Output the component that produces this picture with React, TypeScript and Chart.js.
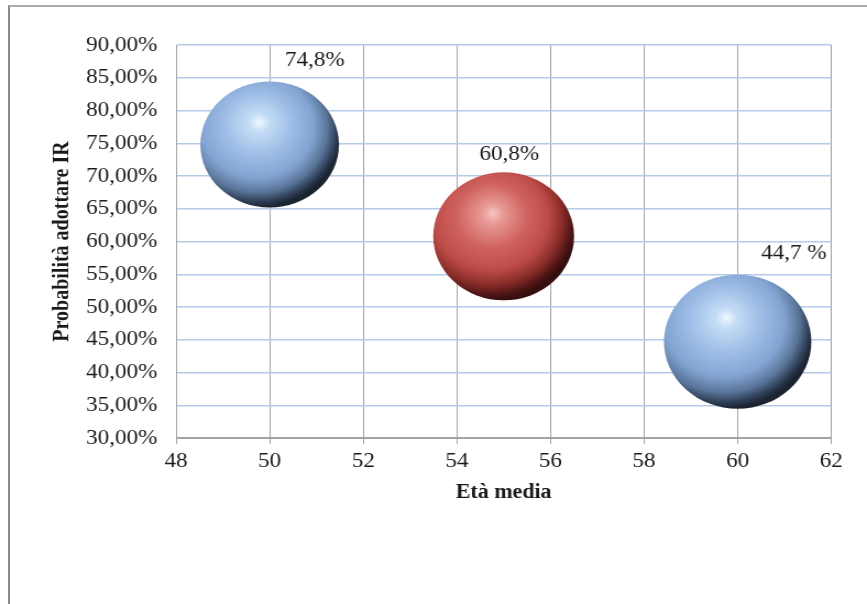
import React, { useEffect, useRef } from "react";
import { Chart, registerables } from "chart.js";

Chart.register(...registerables);

// Average age of the group and probability of adopting IR
const ages = [50, 55, 60];
const probabilities = [74.8, 60.8, 44.7];
const bubbleRadii = [63, 64, 67];
const valueLabels = ["74,8%", "60,8%", "44,7 %"];

// Axis ranges
const xMin = 48;
const xMax = 62;
const xStep = 2;
const yMin = 30;
const yMax = 90;
const yStep = 5;

const xTitle = "Età media";
const yTitle = "Probabilità adottare IR";

// Sphere shading palettes (highlight -> body -> dark rim)
const blueSphere = ["#f0f9ff", "#c4dcf6", "#9dbde6", "#83a4d2", "#5a7599", "#2f3f57", "#1b2431"];
const redSphere = ["#f8c6c2", "#e99a96", "#d0635f", "#bd4c48", "#8a2d2a", "#521716", "#360e0e"];
const spherePalettes = [blueSphere, redSphere, blueSphere];
const sphereStops = [0, 0.12, 0.4, 0.65, 0.82, 0.93, 1];

// Label offsets from each bubble centre (canvas px)
const labelOffsets: [number, number][] = [
  [41, -84],
  [5, -82],
  [51, -88],
];

const CANVAS_W = 788;
const CANVAS_H = 604;
const DISPLAY_W = 867;

const serif = '"Liberation Serif", "Times New Roman", serif';
const gridGray = "#a3a3a3";
const gridBlue = "#b5cae8";

// Gives every bubble a lit-sphere radial gradient, based on its drawn position
const sphereShadePlugin = {
  id: "sphereShade",
  beforeDatasetsDraw(chart: any) {
    const meta = chart.getDatasetMeta(0);
    const ctx = chart.ctx;
    meta.data.forEach((el: any, i: number) => {
      const palette = spherePalettes[i] || blueSphere;
      const cx = el.x;
      const cy = el.y;
      const r = el.options.radius;
      if (![cx, cy, r].every(Number.isFinite)) return;
      const g = ctx.createRadialGradient(
        cx - 0.15 * r,
        cy - 0.36 * r,
        0,
        cx - 0.2 * r,
        cy - 0.25 * r,
        r * 1.25
      );
      sphereStops.forEach((s, k) => g.addColorStop(s, palette[k]));
      el.options.backgroundColor = g;
    });
  },
};

const valueLabelPlugin = {
  id: "valueLabels",
  afterDatasetsDraw(chart: any) {
    const meta = chart.getDatasetMeta(0);
    const ctx = chart.ctx;
    ctx.save();
    ctx.font = `21px ${serif}`;
    ctx.fillStyle = "#1a1a1a";
    ctx.textAlign = "center";
    ctx.textBaseline = "middle";
    meta.data.forEach((el: any, i: number) => {
      const [dx, dy] = labelOffsets[i];
      ctx.fillText(valueLabels[i], el.x + dx, el.y + dy);
    });
    ctx.restore();
  },
};

export default function App() {
  const canvasRef = useRef<HTMLCanvasElement | null>(null);

  useEffect(() => {
    if (!canvasRef.current) return;
    const points = ages.map((a, i) => ({ x: a, y: probabilities[i], r: bubbleRadii[i] }));
    const chart = new Chart(canvasRef.current, {
      type: "bubble",
      data: {
        datasets: [
          {
            data: points,
            backgroundColor: spherePalettes.map((p) => p[3]),
            borderWidth: 0,
          },
        ],
      },
      plugins: [sphereShadePlugin, valueLabelPlugin],
      options: {
        responsive: false,
        animation: false,
        events: [],
        layout: { autoPadding: false, padding: { left: 0, top: 45, right: 32.5, bottom: 0 } },
        plugins: {
          legend: { display: false },
          tooltip: { enabled: false },
        },
        scales: {
          x: {
            type: "linear",
            min: xMin,
            max: xMax,
            ticks: {
              stepSize: xStep,
              color: "#1a1a1a",
              font: { family: serif, size: 21 },
              padding: 5,
            },
            grid: {
              color: gridGray,
              lineWidth: 1,
              tickLength: 6,
              drawTicks: true,
            },
            border: { color: gridGray, width: 1 },
            title: {
              display: true,
              text: xTitle,
              color: "#1a1a1a",
              font: { family: serif, size: 20, weight: "bold" },
              padding: { top: 0, bottom: 99 },
            },
            afterFit: (scale: any) => {
              scale.height = 166;
            },
          },
          y: {
            type: "linear",
            min: yMin,
            max: yMax,
            ticks: {
              stepSize: yStep,
              color: "#1a1a1a",
              font: { family: serif, size: 21 },
              padding: 17,
              callback: (v: any) => Number(v).toFixed(2).replace(".", ",") + "%",
            },
            grid: {
              color: (c: any) => (c.tick && c.tick.value === yMin ? gridGray : gridBlue),
              lineWidth: 1.5,
              drawTicks: false,
            },
            border: { color: gridGray, width: 1 },
            title: {
              display: true,
              text: yTitle,
              color: "#1a1a1a",
              font: { family: serif, size: 20, weight: "bold" },
              padding: { top: 45, bottom: 0 },
            },
            afterFit: (scale: any) => {
              scale.width = 160;
            },
          },
        },
      },
    });
    return () => chart.destroy();
  }, []);

  return (
    <div style={{ position: "fixed", left: 0, top: 0, width: DISPLAY_W, height: CANVAS_H, background: "#fff", overflow: "hidden" }}>
      <div
        style={{
          position: "absolute",
          left: 8,
          top: 5,
          width: 1000,
          height: 800,
          borderTop: "2px solid #ababab",
          borderLeft: "2px solid #8a8a8a",
        }}
      />
      <canvas
        ref={canvasRef}
        width={CANVAS_W}
        height={CANVAS_H}
        style={{ position: "absolute", left: 0, top: 0, width: DISPLAY_W, height: CANVAS_H, display: "block" }}
      />
    </div>
  );
}
